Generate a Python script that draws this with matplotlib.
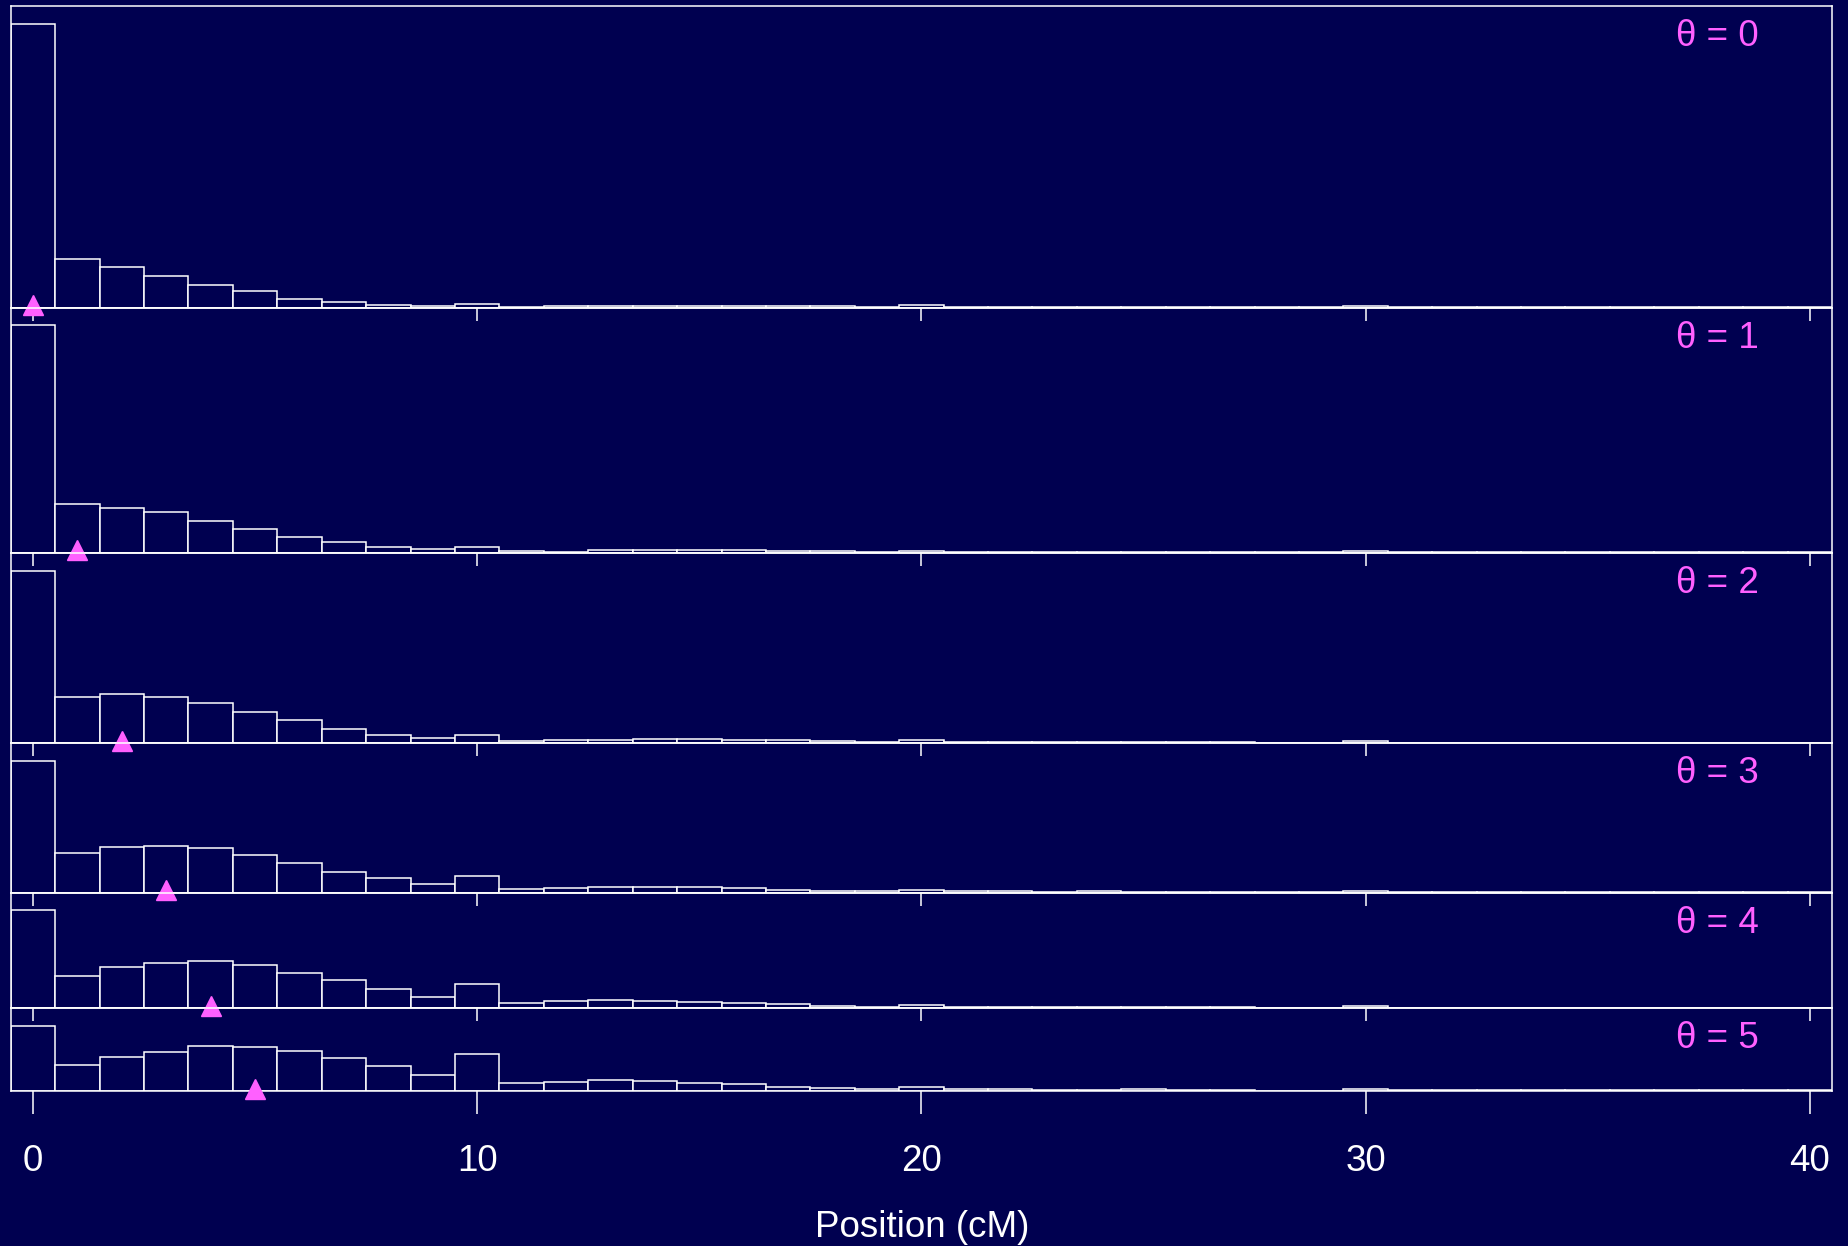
import numpy as np
import matplotlib
matplotlib.use("Agg")
import matplotlib.pyplot as plt
from matplotlib.transforms import ScaledTranslation

# histogram of estimated position, percent of simulations per 1 cM bin
positions = np.arange(0, 41)
thetas = [0, 1, 2, 3, 4, 5]

freq_t0 = [58.0, 10.0, 8.2, 6.5, 4.7, 3.3, 1.8, 1.2, 0.6, 0.4,
           0.7, 0.15, 0.35, 0.35, 0.25, 0.35, 0.35, 0.25, 0.25, 0.05,
           0.45, 0.05, 0.05, 0.15, 0.15, 0.2, 0.15, 0.15, 0.05, 0.05,
           0.25, 0.05, 0.05, 0.05, 0.05, 0.05, 0.05, 0.05, 0.05, 0.05, 0.05]
freq_t1 = [46.5, 10.0, 9.2, 8.4, 6.5, 4.9, 3.3, 2.2, 1.2, 0.8,
           1.2, 0.35, 0.25, 0.55, 0.55, 0.55, 0.55, 0.35, 0.35, 0.15,
           0.45, 0.15, 0.15, 0.15, 0.15, 0.15, 0.15, 0.15, 0.15, 0.15,
           0.3, 0.1, 0.1, 0.1, 0.1, 0.1, 0.1, 0.1, 0.1, 0.1, 0.1]
freq_t2 = [35.3, 9.4, 10.0, 9.4, 8.2, 6.5, 4.7, 2.9, 1.8, 1.0,
           1.8, 0.45, 0.65, 0.6, 0.9, 0.8, 0.65, 0.6, 0.45, 0.35,
           0.65, 0.25, 0.25, 0.2, 0.2, 0.25, 0.25, 0.25, 0.05, 0.05,
           0.4, 0.15, 0.15, 0.15, 0.15, 0.15, 0.15, 0.15, 0.15, 0.15, 0.15]
freq_t3 = [26.9, 8.2, 9.4, 9.6, 9.2, 7.8, 6.1, 4.3, 3.1, 1.8,
           3.5, 0.8, 1.0, 1.1, 1.2, 1.2, 0.95, 0.65, 0.45, 0.4,
           0.65, 0.25, 0.25, 0.2, 0.4, 0.2, 0.15, 0.15, 0.05, 0.05,
           0.4, 0.15, 0.15, 0.15, 0.15, 0.15, 0.15, 0.15, 0.15, 0.15, 0.15]
freq_t4 = [20.0, 6.5, 8.4, 9.2, 9.6, 8.8, 7.1, 5.7, 3.9, 2.4,
           4.9, 1.0, 1.4, 1.6, 1.55, 1.3, 1.0, 0.8, 0.55, 0.35,
           0.75, 0.2, 0.2, 0.35, 0.35, 0.2, 0.35, 0.35, 0.05, 0.05,
           0.4, 0.15, 0.15, 0.15, 0.15, 0.15, 0.15, 0.15, 0.15, 0.15, 0.05]
freq_t5 = [13.3, 5.3, 6.9, 8.0, 9.2, 9.0, 8.2, 6.7, 5.1, 3.3,
           7.6, 1.6, 1.8, 2.2, 2.0, 1.6, 1.35, 0.9, 0.65, 0.45,
           0.8, 0.35, 0.4, 0.2, 0.2, 0.35, 0.15, 0.15, 0.05, 0.05,
           0.35, 0.15, 0.15, 0.15, 0.15, 0.15, 0.15, 0.15, 0.15, 0.15, 0.15]
freqs = [freq_t0, freq_t1, freq_t2, freq_t3, freq_t4, freq_t5]

xticks = [0, 10, 20, 30, 40]

bg = "#000050"
pink = "#ff60ff"
plt.rcParams["font.family"] = ["Liberation Sans", "DejaVu Sans"]

pad = 3.6  # headroom above tallest bar, same units as data
tops = [max(f) + pad for f in freqs]
lw = 1.1

fig = plt.figure(figsize=(18.49, 12.46), dpi=100, facecolor=bg)
gs = fig.add_gridspec(len(freqs), 1, height_ratios=tops, hspace=0,
                      left=10.8 / 1849, right=1832 / 1849,
                      top=1 - 6 / 1246, bottom=1 - 1091 / 1246)

for i, (th, f) in enumerate(zip(thetas, freqs)):
    ax = fig.add_subplot(gs[i])
    ax.set_facecolor("none")
    ax.bar(positions, f, width=1.0, facecolor=bg, edgecolor="white",
           linewidth=lw, zorder=2)
    ax.set_xlim(-0.5, 40.5)
    ax.set_ylim(0, tops[i])
    ax.set_yticks([])
    ax.set_xticks(xticks)
    for sp in ax.spines.values():
        sp.set_color("white")
        sp.set_linewidth(lw)
    last = i == len(freqs) - 1
    ax.tick_params(axis="x", direction="out", colors="white", width=lw,
                   length=16.5 if last else 9.4, pad=22,
                   labelsize=26.5, labelbottom=last)
    # marker for true position, nudged up a little like the original
    shift = ScaledTranslation(0, 2.5 / 100, fig.dpi_scale_trans)
    ax.plot([th], [0], marker="^", ms=15, color=pink, ls="none",
            clip_on=False, zorder=6, transform=ax.transData + shift)
    ax.annotate(f"\u03b8 = {th}", xy=(38.85, 1),
                xycoords=("data", "axes fraction"),
                xytext=(0, -28.8), textcoords="offset points",
                ha="right", va="baseline", color=pink, fontsize=26.5)

fig.text(0.4985, 1 - 1236.7 / 1246, "Position (cM)", ha="center",
         va="baseline", color="white", fontsize=26.5)

fig.savefig("out.png", dpi=100, facecolor=bg)
